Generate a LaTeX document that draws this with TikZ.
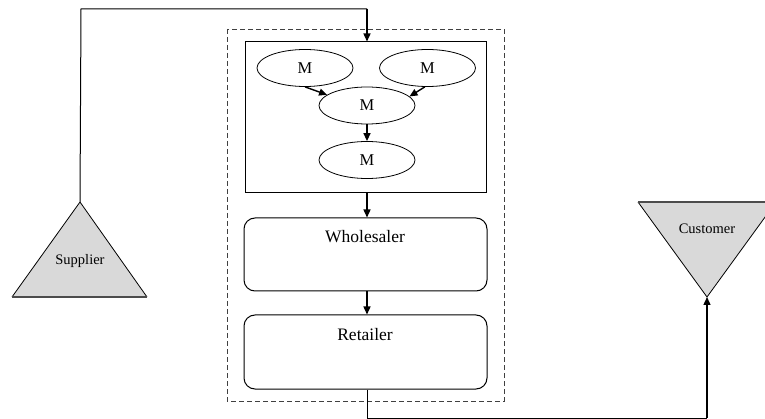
\documentclass[tikz,border=0pt]{standalone}
\usepackage{fontspec}
\setmainfont{Liberation Serif}
\usetikzlibrary{shapes.geometric,arrows.meta}
\definecolor{tri}{HTML}{D9D9D9}
\tikzset{
  mell/.style={draw, line width=0.8pt, ellipse, minimum width=96pt, minimum height=37pt, inner sep=0pt, font=\fontsize{16.5}{18}\selectfont},
  rbox/.style={draw, line width=1pt, rounded corners=11pt, inner sep=0pt},
  arr/.style={line width=1.4pt, -{Triangle[length=8pt,width=7pt]}},
  conn/.style={line width=1pt},
  lbl/.style={inner sep=0pt, font=\fontsize{17.5}{19}\selectfont},
  slbl/.style={inner sep=0pt, font=\fontsize{14.5}{16}\selectfont},
}
\begin{document}
\begin{tikzpicture}[x=1pt,y=-1pt]
\useasboundingbox (0,0) rectangle (765,419);
\clip (0,0) rectangle (765,419);
% dashed enterprise frame
\draw[dash pattern=on 5pt off 3pt, line width=0.9pt, black!75] (227,29) rectangle (504,401);
% manufacturer box
\node[draw, line width=1pt, minimum width=241pt, minimum height=151pt, inner sep=0pt] (mbox) at (365.5,117.5) {};
\node[mell] (m1) at (305,68) {M};
\node[mell] (m2) at (427.5,68) {M};
\node[mell] (m3) at (367,105.5) {M};
\node[mell] (m4) at (367,160) {M};
% wholesaler and retailer
\node[rbox, minimum width=243pt, minimum height=73pt] (whole) at (365.5,254.5) {};
\node[lbl] (wlbl) at (365,237) {Wholesaler};
\node[rbox, minimum width=243pt, minimum height=74pt] (ret) at (365.5,352) {};
\node[lbl] (rlbl) at (365,335) {Retailer};
% supplier triangle
\coordinate (supTop) at (80,202);
\coordinate (supL) at (12,297);
\coordinate (supR) at (147,297);
\fill[tri] (supTop) -- (supL) -- (supR) -- cycle;
\draw[line width=0.8pt] (supTop) -- (supL) (supTop) -- (supR);
\draw[line width=1.3pt, black!70] (supL) -- (supR);
\node[slbl] (sup) at (80,261) {Supplier};
% customer triangle
\coordinate (cusBot) at (707,297);
\coordinate (cusL) at (638,202);
\coordinate (cusR) at (776,202);
\fill[tri] (cusBot) -- (cusL) -- (cusR) -- cycle;
\draw[line width=0.8pt] (cusL) -- (cusBot) -- (cusR);
\draw[line width=1.3pt, black!70] (cusL) -- (cusR);
\node[slbl] (cus) at (707,229) {Customer};
% connectors
\coordinate (c1) at (81,9);
\coordinate (c2) at (367,9);
\draw[conn] (supTop) -- (c1) -- (c2);
\draw[arr] (c2) -- (c2 |- mbox.north);
\draw[arr] (m1.south) -- (m3.165);
\draw[arr] (m2.262) -- (m3.12);
\draw[arr] (m3) -- (m4);
\draw[arr] (m4 |- mbox.south) -- (m4 |- whole.north);
\draw[arr] (m4 |- whole.south) -- (m4 |- ret.north);
\coordinate (c3) at (367,418);
\coordinate (c4) at (707,418);
\draw[conn] (m4 |- ret.south) -- (c3) -- (c4);
\draw[arr] (c4) -- (cusBot);
\end{tikzpicture}
\end{document}
